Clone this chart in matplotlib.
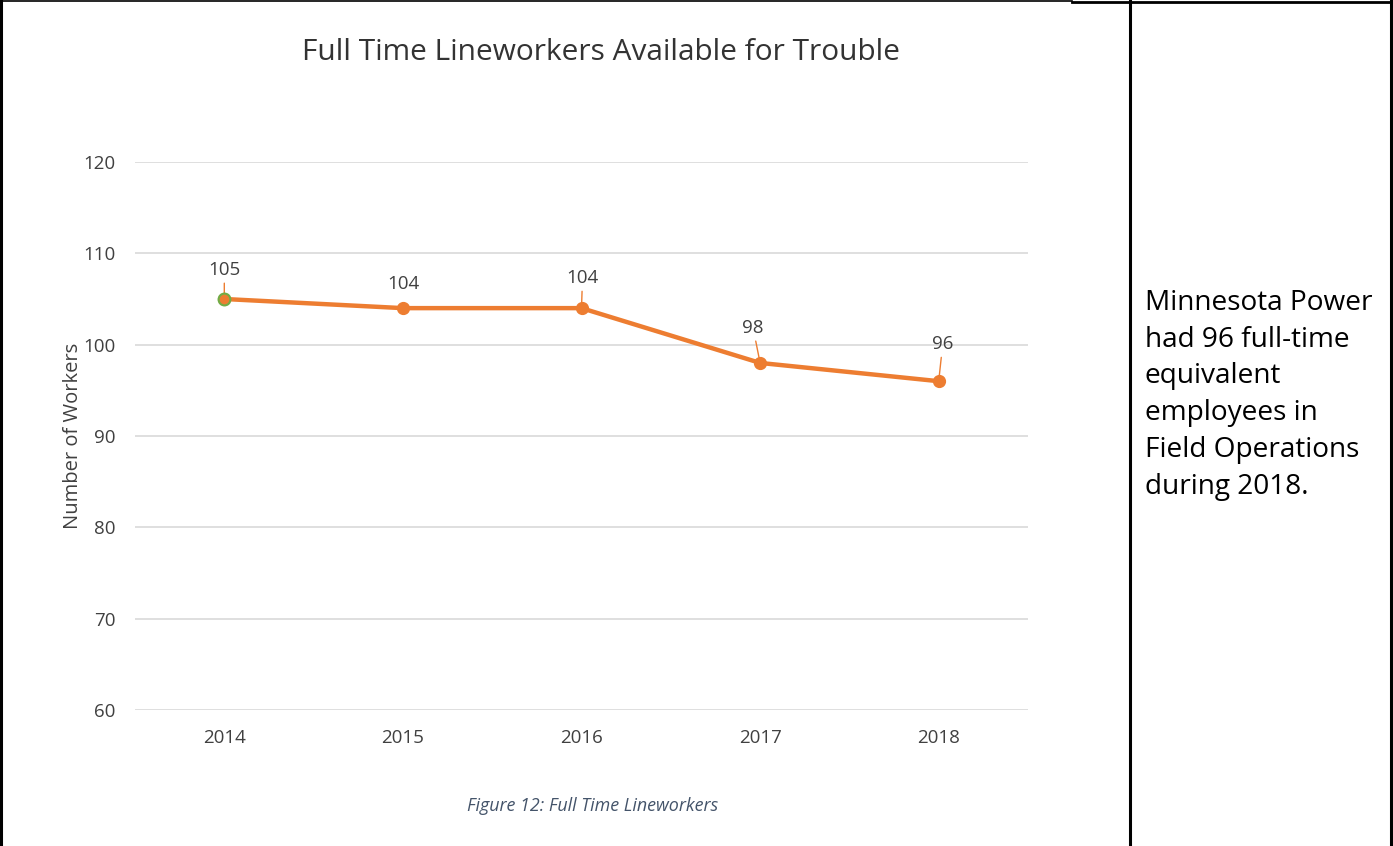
import matplotlib.pyplot as plt
import matplotlib as mpl
import numpy as np

years = ['2014', '2015', '2016', '2017', '2018']
workers = [105, 104, 104, 98, 96]
y_ticks = [60, 70, 80, 90, 100, 110, 120]

# label offsets from each point, in pixels
label_offsets = [(0, 29), (1, 24), (1, 30), (-7, 35), (4, 37)]
has_leader = [True, False, True, True, True]

orange = '#ED7D31'
green = '#70AD47'
grid_gray = '#D9D9D9'
text_gray = '#404040'

mpl.rcParams['font.family'] = ['Open Sans', 'DejaVu Sans']

fig = plt.figure(figsize=(13.93, 8.46), dpi=100)
ax = fig.add_axes([135 / 1393, 1 - 710 / 846, 893 / 1393, 548 / 846])

x = np.arange(len(years))
ax.plot(x, workers, '-', color=orange, lw=3.2, solid_capstyle='round', zorder=3)
ax.plot(x, workers, 'o', color=orange, ms=8.5, mec=orange, zorder=4)
# first marker has a green rim
ax.plot(x[:1], workers[:1], 'o', color=orange, ms=8.5, mec=green, mew=1.5, zorder=5)

for xi, yi, (dx, dy), lead in zip(x, workers, label_offsets, has_leader):
    arrow = dict(arrowstyle='-', color=orange, lw=1, shrinkA=1, shrinkB=4) if lead else None
    ax.annotate(str(yi), (xi, yi), textcoords='offset pixels', xytext=(dx, dy),
                ha='center', va='center', fontsize=13.5, color=text_gray,
                arrowprops=arrow)

ax.set_xlim(-0.5, len(years) - 0.5)
ax.set_ylim(60, 120)
ax.set_yticks(y_ticks)
ax.set_xticks(x)
ax.set_xticklabels(years)
ax.tick_params(axis='both', length=0, labelsize=13.5, labelcolor=text_gray)
ax.tick_params(axis='x', pad=14)
ax.tick_params(axis='y', pad=14)
ax.grid(axis='y', color=grid_gray, lw=1.2)
ax.set_axisbelow(True)
for s in ax.spines.values():
    s.set_visible(False)
ax.set_ylabel('Number of Workers', fontsize=14.5, color=text_gray, labelpad=0.5)

fig.text(601 / 1393, 1 - 52 / 846, 'Full Time Lineworkers Available for Trouble',
         ha='center', va='center', fontsize=21.5, color='#333333')
fig.text(593 / 1393, 1 - 806 / 846, 'Figure 12: Full Time Lineworkers',
         ha='center', va='center', fontsize=12.9, style='italic', color='#44546A')

fig.text(1145 / 1393, 1 - 289 / 846,
         'Minnesota Power\nhad 96 full-time\nequivalent\nemployees in\nField Operations\nduring 2018.',
         ha='left', va='top', fontsize=20.2, color='black', linespacing=1.415)

# table borders around the figure cell and the note cell
def hline(x0, x1, y, lw):
    fig.add_artist(mpl.lines.Line2D([x0 / 1393, x1 / 1393], [1 - y / 846] * 2,
                                    color='black', lw=lw))

def vline(xp, lw):
    fig.add_artist(mpl.lines.Line2D([xp / 1393] * 2, [0, 1 - 1 / 846],
                                    color='black', lw=lw))

hline(0, 1072, 1.2, 1.2)
hline(1072, 1393, 1.8, 2.0)
vline(1.2, 2.2)
vline(1129.5, 2.2)
vline(1391, 2.2)

fig.savefig('out.png', dpi=100)
